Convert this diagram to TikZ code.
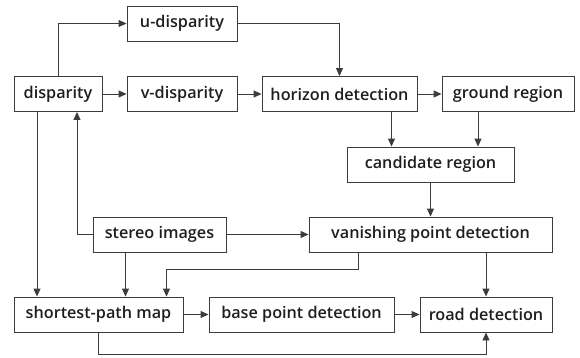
\documentclass[tikz,border=0pt]{standalone}
\usepackage{fontspec}
\setmainfont{Open Sans}[UprightFont=* Semibold]
\usetikzlibrary{calc,arrows.meta}

\definecolor{linegray}{HTML}{3C3C3C}
\definecolor{textgray}{HTML}{1E1E1E}

\tikzset{
	box/.style={draw=linegray,line width=0.9pt,text=textgray,minimum height=35pt,inner sep=0pt,font=\fontsize{16.2}{19}\selectfont},
	arr/.style={draw=linegray,line width=0.9pt,-{Triangle[length=8pt,width=7pt]}}
}

\begin{document}
\begin{tikzpicture}[x=1pt,y=-1pt]
	\useasboundingbox (0,0) rectangle (580,357);
	
	% first row
	\node[box,minimum width=88pt] (disp) at (58,94) {disparity};
	\node[box,minimum width=110pt] (ud) at (182,23.5) {u-disparity};
	\node[box,minimum width=110pt] (vd) at (182,94) {v-disparity};
	\node[box,minimum width=155pt] (hor) at (339.5,94) {horizon detection};
	\node[box,minimum width=132pt] (gr) at (508,94) {ground region};
	
	% middle
	\node[box,minimum width=167pt] (cand) at (430.5,164.5) {candidate region};
	\node[box,minimum width=133pt] (st) at (159.5,234.5) {stereo images};
	\node[box,minimum width=243pt] (vp) at (430.5,234.5) {vanishing point detection};
	
	% last row
	\node[box,minimum width=169pt] (sp) at (98.5,314.5) {shortest-path map};
	\node[box,minimum width=185pt] (bp) at (301.5,314.5) {base point detection};
	\node[box,minimum width=132pt] (rd) at (486,314.5) {road detection};
	
	\foreach \a/\b in {disp/vd,
		vd/hor,
		hor/gr,
		sp/bp,
		bp/rd%
	}
	{\draw[arr] (\a) -- (\b);}
	
	\draw[arr] (disp.north) |- (ud.west);
	\draw[arr] (ud.east) -| (hor.north);
	\draw[arr] ($(hor.south)+(52,0)$) coordinate (h1) -- (h1 |- cand.north);
	\draw[arr] ($(gr.south)+(-30,0)$) coordinate (g1) -- (g1 |- cand.north);
	\draw[arr] (cand) -- (vp);
	
	\draw[arr] ($(disp.south)+(-21,0)$) coordinate (d1) -- (d1 |- sp.north);
	\draw[arr] (st.west) -| ($(disp.south)+(19,0)$);
	\draw[arr] (st) -- (vp);
	\draw[arr] ($(st.south)+(-34,0)$) coordinate (s1) -- (s1 |- sp.north);
	
	\draw[arr] ($(vp.south)+(-72,0)$) -- ++(0,17) -| ($(sp.north)+(68,0)$);
	\draw[arr] (vp.south -| rd.north) -- (rd.north);
	\draw[arr] (sp.south) -- ++(0,22) -| (rd.south);
	
\end{tikzpicture}
\end{document}
